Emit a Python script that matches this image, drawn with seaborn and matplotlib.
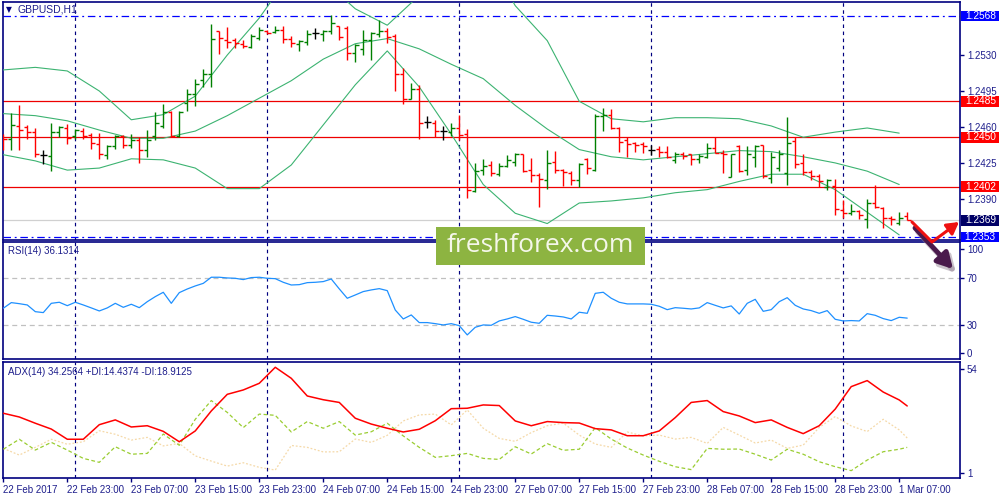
import matplotlib
matplotlib.use("Agg")
import seaborn as sns
import matplotlib.pyplot as plt
from matplotlib.patches import Rectangle, FancyArrowPatch
from matplotlib.path import Path

sns.set_style("white")
plt.rcParams['font.family'] = ['Liberation Sans', 'DejaVu Sans']

# --- GBPUSD H1 bars (22 Feb 15:00 .. 1 Mar 08:00) ---
bar_open = [1.2452, 1.2448, 1.2461, 1.2460, 1.2455, 1.2433, 1.2432, 1.2455, 1.2459, 1.2451,
            1.2456, 1.2452, 1.2443, 1.2433, 1.2441, 1.2451, 1.2442, 1.2447, 1.2438, 1.2451,
            1.2461, 1.2475, 1.2451, 1.2483, 1.2492, 1.2506, 1.2512, 1.2553, 1.2545, 1.2545,
            1.2541, 1.2538, 1.2547, 1.2553, 1.2552, 1.2554, 1.2546, 1.2541, 1.2543, 1.2551,
            1.2550, 1.2553, 1.2558, 1.2556, 1.2532, 1.2536, 1.2545, 1.2550, 1.2553, 1.2549,
            1.2512, 1.2487, 1.2497, 1.2465, 1.2464, 1.2456, 1.2455, 1.2459, 1.2453, 1.2398,
            1.2418, 1.2423, 1.2414, 1.2422, 1.2426, 1.2434, 1.2418, 1.2413, 1.2408, 1.2426,
            1.2418, 1.2415, 1.2408, 1.2429, 1.2418, 1.2471, 1.2472, 1.2459, 1.2447, 1.2444,
            1.2443, 1.2438, 1.2439, 1.2436, 1.2428, 1.2434, 1.2434, 1.2429, 1.2431, 1.2440,
            1.2435, 1.2411, 1.2441, 1.2418, 1.2431, 1.2442, 1.2410, 1.2420, 1.2415, 1.2446,
            1.2425, 1.2416, 1.2412, 1.2402, 1.2403, 1.2379, 1.2376, 1.2378, 1.2370, 1.2386,
            1.2381, 1.2371, 1.2367, 1.2373]
bar_high = [1.2453, 1.2474, 1.2481, 1.2462, 1.2459, 1.2438, 1.2464, 1.2461, 1.2463, 1.2458,
            1.2459, 1.2454, 1.2454, 1.2442, 1.2452, 1.2452, 1.2453, 1.2450, 1.2457, 1.2475,
            1.2482, 1.2476, 1.2476, 1.2497, 1.2507, 1.2516, 1.2560, 1.2553, 1.2557, 1.2547,
            1.2545, 1.2550, 1.2557, 1.2554, 1.2558, 1.2558, 1.2549, 1.2545, 1.2554, 1.2556,
            1.2554, 1.2569, 1.2558, 1.2558, 1.2541, 1.2554, 1.2552, 1.2564, 1.2556, 1.2550,
            1.2517, 1.2503, 1.2501, 1.2471, 1.2467, 1.2461, 1.2464, 1.2472, 1.2458, 1.2425,
            1.2429, 1.2427, 1.2425, 1.2433, 1.2435, 1.2434, 1.2430, 1.2415, 1.2438, 1.2437,
            1.2419, 1.2417, 1.2425, 1.2430, 1.2473, 1.2478, 1.2477, 1.2460, 1.2450, 1.2445,
            1.2445, 1.2442, 1.2441, 1.2441, 1.2436, 1.2436, 1.2434, 1.2434, 1.2444, 1.2450,
            1.2438, 1.2434, 1.2442, 1.2441, 1.2442, 1.2442, 1.2436, 1.2438, 1.2470, 1.2450,
            1.2434, 1.2418, 1.2414, 1.2409, 1.2409, 1.2389, 1.2385, 1.2379, 1.2390, 1.2404,
            1.2382, 1.2373, 1.2377, 1.2377]
bar_low = [1.2438, 1.2438, 1.2438, 1.2448, 1.2431, 1.2424, 1.2417, 1.2450, 1.2443, 1.2448,
           1.2448, 1.2439, 1.2429, 1.2429, 1.2439, 1.2440, 1.2440, 1.2425, 1.2431, 1.2447,
           1.2459, 1.2450, 1.2450, 1.2476, 1.2480, 1.2499, 1.2499, 1.2531, 1.2537, 1.2537,
           1.2537, 1.2537, 1.2545, 1.2550, 1.2551, 1.2542, 1.2538, 1.2534, 1.2540, 1.2546,
           1.2544, 1.2550, 1.2545, 1.2525, 1.2523, 1.2530, 1.2525, 1.2548, 1.2542, 1.2495,
           1.2482, 1.2487, 1.2448, 1.2459, 1.2450, 1.2447, 1.2451, 1.2447, 1.2391, 1.2397,
           1.2413, 1.2412, 1.2412, 1.2421, 1.2422, 1.2416, 1.2406, 1.2382, 1.2400, 1.2415,
           1.2403, 1.2404, 1.2402, 1.2414, 1.2417, 1.2456, 1.2458, 1.2436, 1.2431, 1.2436,
           1.2435, 1.2433, 1.2431, 1.2430, 1.2425, 1.2429, 1.2423, 1.2425, 1.2430, 1.2435,
           1.2415, 1.2411, 1.2416, 1.2413, 1.2421, 1.2410, 1.2405, 1.2417, 1.2404, 1.2420,
           1.2413, 1.2408, 1.2402, 1.2399, 1.2374, 1.2371, 1.2374, 1.2370, 1.2362, 1.2381,
           1.2362, 1.2365, 1.2365, 1.2369]
bar_close = [1.2448, 1.2462, 1.2457, 1.2455, 1.2434, 1.2433, 1.2455, 1.2460, 1.2449, 1.2457,
             1.2451, 1.2444, 1.2434, 1.2441, 1.2451, 1.2442, 1.2447, 1.2438, 1.2447, 1.2464,
             1.2475, 1.2451, 1.2475, 1.2492, 1.2502, 1.2512, 1.2546, 1.2547, 1.2543, 1.2542,
             1.2539, 1.2549, 1.2554, 1.2551, 1.2554, 1.2546, 1.2542, 1.2544, 1.2550, 1.2551,
             1.2553, 1.2561, 1.2548, 1.2532, 1.2540, 1.2545, 1.2551, 1.2553, 1.2548, 1.2512,
             1.2487, 1.2497, 1.2464, 1.2465, 1.2456, 1.2456, 1.2459, 1.2452, 1.2399, 1.2417,
             1.2422, 1.2415, 1.2422, 1.2428, 1.2434, 1.2417, 1.2413, 1.2409, 1.2425, 1.2418,
             1.2416, 1.2408, 1.2424, 1.2420, 1.2471, 1.2472, 1.2459, 1.2445, 1.2443, 1.2442,
             1.2441, 1.2438, 1.2436, 1.2431, 1.2434, 1.2432, 1.2429, 1.2432, 1.2440, 1.2435,
             1.2434, 1.2434, 1.2417, 1.2434, 1.2441, 1.2412, 1.2431, 1.2434, 1.2444, 1.2424,
             1.2416, 1.2412, 1.2407, 1.2408, 1.2380, 1.2376, 1.2378, 1.2374, 1.2386, 1.2382,
             1.2371, 1.2370, 1.2371, 1.2369]

# Bollinger bands, read every 4th bar
bb_bars = [0, 4, 8, 12, 16, 20, 24, 28, 32, 36, 40, 44, 48, 52, 56, 60, 64, 68, 72, 76,
           80, 84, 88, 92, 96, 100, 104, 108, 112]
bb_upper = [1.25155, 1.2518, 1.25145, 1.2495, 1.2467, 1.2472, 1.2490, 1.2530, 1.2566, 1.2610,
            1.2603, 1.2575, 1.2559, 1.2588, 1.2632, 1.2632, 1.2578, 1.2544, 1.2485, 1.2468,
            1.2465, 1.2469, 1.2469, 1.2468, 1.2461, 1.2450, 1.2455, 1.2459, 1.2454]
bb_mid = [1.2473, 1.2471, 1.2466, 1.2457, 1.2449, 1.2449, 1.2456, 1.2471, 1.2488, 1.2505,
          1.2526, 1.2541, 1.2546, 1.2536, 1.2521, 1.2507, 1.2481, 1.2458, 1.2438, 1.2431,
          1.2428, 1.2431, 1.2434, 1.2437, 1.2436, 1.2431, 1.2425, 1.2417, 1.2404]
bb_lower = [1.2433, 1.2427, 1.2418, 1.2420, 1.2429, 1.2428, 1.2420, 1.2400, 1.2400, 1.2423,
            1.2462, 1.2501, 1.2534, 1.2499, 1.2453, 1.2404, 1.2376, 1.2366, 1.2386, 1.2388,
            1.2391, 1.2396, 1.2399, 1.2407, 1.2414, 1.2414, 1.2399, 1.2377, 1.2355]

rsi = [44.5, 49.3, 48.4, 47.3, 41.6, 40.8, 48.7, 49.6, 46.7, 49.6,
       47.3, 44.8, 42.2, 44.8, 48.7, 45.3, 47.9, 45.0, 50.1, 54.4,
       58.1, 48.7, 57.8, 60.9, 63.5, 65.7, 70.9, 70.9, 70.3, 70.0,
       68.9, 70.6, 70.9, 70.0, 69.7, 66.6, 64.3, 64.6, 66.3, 66.6,
       67.2, 69.4, 61.0, 53.0, 55.8, 58.7, 60.1, 61.2, 59.5, 43.0,
       35.4, 38.8, 32.3, 32.3, 31.4, 30.3, 31.4, 29.7, 21.8, 28.3,
       30.3, 30.0, 33.7, 35.4, 37.4, 35.1, 32.6, 31.7, 38.5, 37.9,
       37.1, 35.4, 41.1, 40.2, 57.2, 58.1, 53.0, 49.6, 48.2, 48.2,
       48.2, 47.9, 46.2, 43.3, 45.0, 44.5, 43.9, 44.8, 49.3, 47.0,
       44.8, 46.5, 39.6, 48.7, 52.1, 41.9, 43.3, 50.1, 53.5, 47.0,
       43.9, 42.5, 40.2, 42.5, 35.1, 33.7, 34.0, 33.7, 39.9, 38.5,
       35.7, 34.0, 36.8, 36.1]

# ADX / DI read every 2nd bar, plus the last bar
adx_bars = list(range(0, 113, 2)) + [113]
adx = [30.8, 29.0, 26.0, 23.2, 18.3, 18.3, 25.3, 27.6, 24.2, 24.8,
       22.1, 17.1, 22.3, 31.9, 39.9, 42.0, 45.2, 52.9, 47.6, 39.1,
       37.3, 36.0, 28.4, 25.6, 23.6, 21.8, 23.1, 27.2, 33.0, 33.2,
       34.8, 34.5, 27.1, 24.8, 26.8, 26.3, 26.1, 23.4, 22.8, 20.0,
       20.0, 22.3, 28.7, 36.0, 36.9, 31.6, 29.5, 26.3, 27.6, 24.0,
       21.0, 24.8, 32.8, 43.6, 46.5, 41.0, 37.2, 34.3]
plus_di = [13.5, 18.3, 13.1, 16.8, 13.1, 9.1, 7.2, 14.7, 11.1, 11.5,
           20.8, 15.4, 27.9, 36.9, 31.2, 23.9, 30.4, 29.8, 21.8, 26.8,
           23.6, 26.8, 20.3, 21.9, 26.0, 19.9, 14.4, 9.6, 10.4, 11.5,
           9.1, 8.6, 14.7, 11.2, 16.2, 13.0, 13.5, 23.9, 18.4, 14.1,
           10.7, 7.7, 5.1, 3.7, 13.9, 13.5, 13.6, 11.1, 8.3, 13.5,
           11.1, 7.5, 5.1, 3.2, 8.3, 12.3, 13.5, 14.4]
minus_di = [13.9, 10.7, 14.4, 18.3, 15.9, 17.1, 22.4, 20.7, 17.9, 19.2,
            15.1, 16.3, 10.3, 7.8, 5.4, 7.0, 4.8, 3.5, 15.3, 14.4,
            12.2, 12.3, 18.4, 16.8, 20.2, 27.1, 30.0, 30.4, 25.2, 32.4,
            23.6, 18.7, 17.3, 21.5, 24.8, 26.1, 20.3, 16.0, 14.4, 21.8,
            19.9, 20.3, 18.4, 19.2, 16.3, 24.0, 20.3, 16.5, 17.9, 13.9,
            15.5, 24.0, 29.2, 24.7, 22.0, 27.9, 22.8, 18.9]

date_bars = [0, 8, 16, 24, 32, 40, 48, 56, 64, 72, 80, 88, 96, 104, 112]
date_labels = ["22 Feb 2017", "22 Feb 23:00", "23 Feb 07:00", "23 Feb 15:00", "23 Feb 23:00",
               "24 Feb 07:00", "24 Feb 15:00", "24 Feb 23:00", "27 Feb 07:00", "27 Feb 15:00",
               "27 Feb 23:00", "28 Feb 07:00", "28 Feb 15:00", "28 Feb 23:00", "1 Mar 07:00"]
day_breaks = [9, 33, 57, 81, 105]

red_levels = [1.2485, 1.2450, 1.2402]
blue_levels = [1.2568, 1.2353]
bid_level = 1.2369
price_ticks = [1.2390, 1.2425, 1.2460, 1.2495, 1.2530]

NAVY = '#00007f'
TXT = '#1e1e8c'
FS = 7

fig = plt.figure(figsize=(10, 5), dpi=100)
left, right = 2.5 / 1000, 960 / 1000
ax_p = fig.add_axes([left, 1 - 240 / 500, right - left, 238 / 500])
ax_r = fig.add_axes([left, 1 - 359 / 500, right - left, 117 / 500])
ax_a = fig.add_axes([left, 1 - 478 / 500, right - left, 116 / 500])

for ax in (ax_p, ax_r, ax_a):
    ax.set_facecolor('white')
    for sp in ax.spines.values():
        sp.set_color(NAVY)
        sp.set_linewidth(1.2)
    ax.set_xlim(-0.1, 119.6)
    ax.tick_params(axis='y', left=False, right=True, labelleft=False, labelright=True,
                   labelsize=FS, labelcolor=TXT, color=NAVY, length=3, width=1, pad=2)
    ax.tick_params(axis='x', bottom=False, labelbottom=False)
    for b in day_breaks:
        ax.axvline(b, color=NAVY, ls=(0, (3, 3)), lw=0.85, zorder=1)

# --- price panel ---
ax_p.set_ylim(1.2350, 1.25816)
ax_p.set_yticks(price_ticks)
ax_p.set_yticklabels([f"{t:.4f}" for t in price_ticks])

for lv in red_levels:
    ax_p.axhline(lv, color='#ee0000', lw=0.9, zorder=2)
for lv in blue_levels:
    ax_p.axhline(lv, color='#0000ff', lw=0.9, ls=(0, (6, 3, 1.5, 3)), zorder=2)
ax_p.axhline(bid_level, color='#d0d0d0', lw=0.9, zorder=1.5)

for band in (bb_upper, bb_mid, bb_lower):
    sns.lineplot(x=bb_bars, y=band, ax=ax_p, color='#3cb371', lw=0.8, zorder=3)

idx = list(range(len(bar_close)))
cols = ['#008000' if c > o else ('#ff0000' if c < o else 'black')
        for o, c in zip(bar_open, bar_close)]
ax_p.vlines(idx, bar_low, bar_high, colors=cols, lw=1.0, zorder=4)
ax_p.hlines(bar_open, [i - 0.42 for i in idx], idx, colors=cols, lw=1.0, zorder=4)
ax_p.hlines(bar_close, idx, [i + 0.42 for i in idx], colors=cols, lw=1.0, zorder=4)

# price tags on the right scale
tag_h = 5.3 * (1.25816 - 1.2350) / 238
tags = [(1.2568, '#0000ff'), (1.2485, '#ff0000'), (1.2450, '#ff0000'),
        (1.2402, '#ff0000'), (1.2369, '#000066'), (1.2353, '#0000ff')]
ytr = ax_p.get_yaxis_transform()
for val, c in tags:
    ax_p.add_patch(Rectangle((1.0008, val - tag_h), 38.5 / 957.5, 2 * tag_h, transform=ytr,
                             facecolor=c, edgecolor='none', clip_on=False, zorder=10))
    ax_p.text(1.0008 + 19.5 / 957.5, val, f"{val:.4f}", transform=ytr, ha='center',
              va='center', color='white', fontsize=FS + 0.3, zorder=11, clip_on=False)

# --- RSI panel ---
ax_r.set_ylim(1.3, 100.9)
ax_r.axhline(70, color='#c0c0c0', ls=(0, (4, 3)), lw=0.9)
ax_r.axhline(30, color='#c0c0c0', ls=(0, (4, 3)), lw=0.9)
sns.lineplot(x=idx, y=rsi, ax=ax_r, color='#1e90ff', lw=0.9, zorder=3)
ax_r.set_yticks([95.0, 70, 30, 6.4])
ax_r.set_yticklabels(['100', '70', '30', '0'])

# --- ADX panel ---
ax_a.set_ylim(-0.33, 55.44)
sns.lineplot(x=adx_bars, y=minus_di, ax=ax_a, color='#f5d9a8', lw=0.9,
             linestyle=(0, (1.5, 1.5)), zorder=2)
sns.lineplot(x=adx_bars, y=plus_di, ax=ax_a, color='#9acd32', lw=0.9,
             linestyle=(0, (3, 2)), zorder=3)
sns.lineplot(x=adx_bars, y=adx, ax=ax_a, color='#ff0000', lw=1.1, zorder=4)
ax_a.set_yticks([52.1, 2.2])
ax_a.set_yticklabels(['54', '1'])
ax_a.set_xticks(date_bars)
ax_a.set_xticklabels(date_labels)
ax_a.tick_params(axis='x', bottom=True, labelbottom=True, labelsize=FS, labelcolor=TXT,
                 color=NAVY, length=3, width=1, pad=2)
for lbl in ax_a.get_xticklabels():
    lbl.set_ha('left')

for ax in (ax_p, ax_r, ax_a):
    ax.set_xlabel('')
    ax.set_ylabel('')
    ax.set_xlim(-0.1, 119.6)

# --- panel captions ---
fig.text(0.0055, 1 - 10 / 500, '\u25bc', fontsize=5.5, color=NAVY, va='center',
         family='DejaVu Sans')
fig.text(0.018, 1 - 10 / 500, 'GBPUSD,H1', fontsize=FS + 0.5, color=TXT, va='center')
fig.text(0.0075, 1 - 251 / 500, 'RSI(14) 36.1314', fontsize=FS, color=TXT, va='center')
fig.text(0.008, 1 - 372 / 500, 'ADX(14) 34.2564 +DI:14.4374 -DI:18.9125', fontsize=FS,
         color=TXT, va='center')

# --- watermark ---
fig.add_artist(Rectangle((436 / 1000, 1 - 265 / 500), 209 / 1000, 38 / 500,
                         transform=fig.transFigure, facecolor='#8db441', edgecolor='none',
                         zorder=20))
fig.text(540 / 1000, 1 - 246 / 500, 'freshforex.com', fontsize=19, color='#f5f7ea',
         family='Open Sans', ha='center', va='center', zorder=21)


def fpx(x, y):
    return (x / 1000, 1 - y / 500)


# --- hand drawn arrows ---
shadow = FancyArrowPatch(path=Path([fpx(918, 232), fpx(956, 273)]),
                         arrowstyle='-|>,head_length=9,head_width=5', lw=4,
                         color='#9a8a9a', alpha=0.5, transform=fig.transFigure, zorder=22)
fig.add_artist(shadow)
purple = FancyArrowPatch(path=Path([fpx(915, 228), fpx(953, 269)]),
                         arrowstyle='-|>,head_length=9,head_width=5', lw=3.5,
                         color='#4a1a4c', transform=fig.transFigure, zorder=23)
fig.add_artist(purple)
red = FancyArrowPatch(path=Path([fpx(912, 222), fpx(932, 242), fpx(959, 222)]),
                      arrowstyle='-|>,head_length=7,head_width=4', lw=2.2,
                      color='#ee1111', transform=fig.transFigure, zorder=24)
fig.add_artist(red)

fig.savefig('out.png', dpi=100, facecolor='white')
